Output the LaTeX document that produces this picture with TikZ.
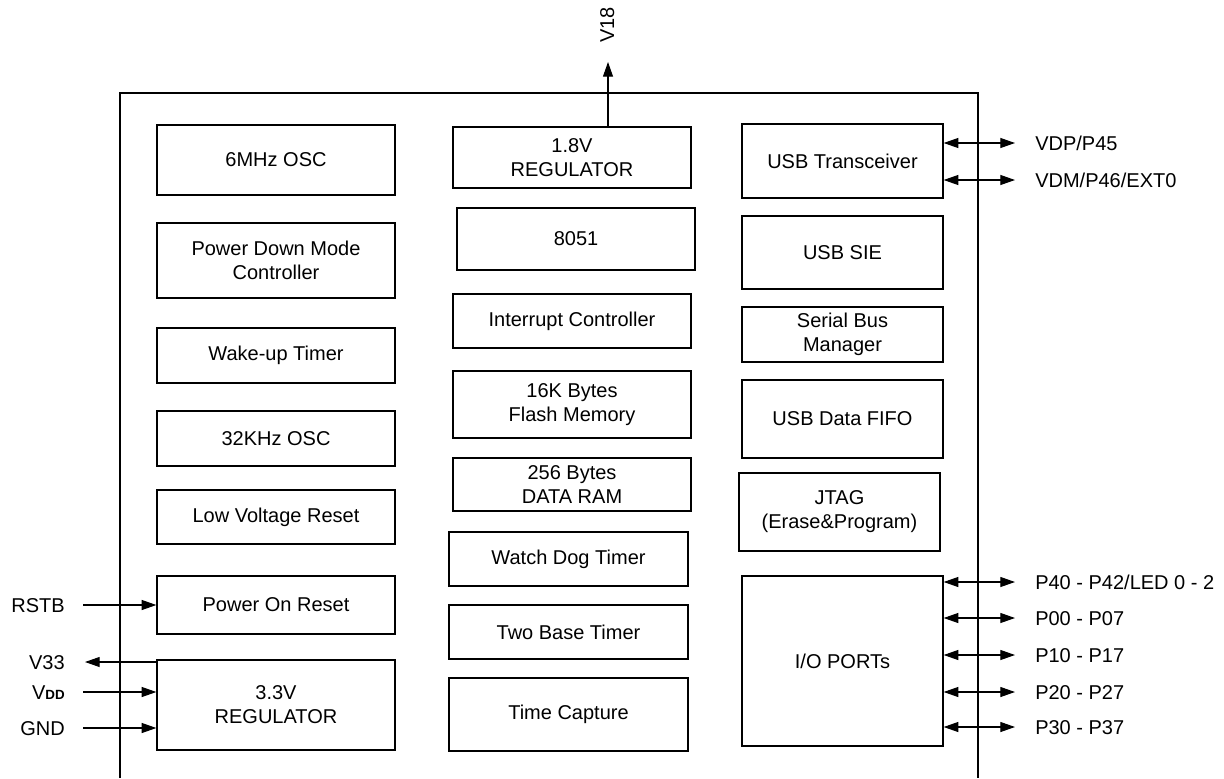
\documentclass[tikz,border=0pt]{standalone}
\usepackage{fontspec}
\setmainfont{Liberation Sans}
\usetikzlibrary{arrows.meta}
\begin{document}
\begin{tikzpicture}[x=0.75pt,y=-0.75pt,
  font=\fontsize{15}{18}\selectfont,
  blk/.style 2 args={draw, line width=1pt, align=center, inner sep=0pt,
    minimum width=#1*0.75pt, minimum height=#2*0.75pt},
  pin/.style={inner sep=0pt, text height=10.7pt, text depth=0pt},
  chip/.style={line width=2.2pt},
  sig/.style={line width=0.8pt, -{Triangle[length=11pt,width=7.5pt]}},
  bus/.style={line width=0.8pt,
    {Triangle[length=11pt,width=7.5pt]}-{Triangle[length=11pt,width=7.5pt]}}]
\useasboundingbox (0,0) rectangle (1224,778);
\draw[chip] (120,778) |- (978,93) -- (978,778);

\node[blk={238}{70}] (osc6) at (276,160) {6MHz OSC};
\node[blk={238}{75}] (pdm) at (276,260.5) {Power Down Mode\\Controller};
\node[blk={238}{55}] (wkt) at (276,355.5) {Wake-up Timer};
\node[blk={238}{55}] (osc32) at (276,438.5) {32KHz OSC};
\node[blk={238}{54}] (lvr) at (276,517) {Low Voltage Reset};
\node[blk={238}{58}] (por) at (276,605) {Power On Reset};
\node[blk={238}{90}] (reg33) at (276,705) {3.3V\\REGULATOR};

\node[blk={238}{61}] (reg18) at (572,157.5) {1.8V\\REGULATOR};
\node[blk={238}{62}] (mcu) at (576,239) {8051};
\node[blk={238}{54}] (intc) at (572,321) {Interrupt Controller};
\node[blk={238}{67}] (flash) at (572,404.5) {16K Bytes\\Flash Memory};
\node[blk={238}{53}] (ram) at (572,484.5) {256 Bytes\\DATA RAM};
\node[blk={239}{54}] (wdt) at (568.5,559) {Watch Dog Timer};
\node[blk={239}{54}] (tbt) at (568.5,632) {Two Base Timer};
\node[blk={239}{73}] (tcap) at (568.5,714.5) {Time Capture};

\node[blk={201}{74}] (usbtr) at (842.5,161) {USB Transceiver};
\node[blk={201}{73}] (sie) at (842.5,252.5) {USB SIE};
\node[blk={201}{55}] (sbm) at (842.5,334.5) {Serial Bus\\Manager};
\node[blk={201}{78}] (fifo) at (842.5,419) {USB Data FIFO};
\node[blk={201}{78}] (jtag) at (839.5,512) {JTAG\\(Erase\&Program)};
\node[blk={201}{170}] (io) at (842.5,661) {I/O PORTs};

\coordinate (v18) at (608,62);
\draw[sig] (reg18.north -| v18) -- (v18);
\node[pin, rotate=90] (lv18) at (607,25) {V18};

\coordinate (rstb) at (83,605);
\coordinate (v33) at (85,662);
\coordinate (vdd) at (83,692);
\coordinate (gnd) at (83,728);
\draw[sig] (rstb) -- (rstb -| por.west);
\draw[sig] (v33 -| reg33.west) -- (v33);
\draw[sig] (vdd) -- (vdd -| reg33.west);
\draw[sig] (gnd) -- (gnd -| reg33.west);
\node[pin, anchor=east] (lrstb) at (65,605) {RSTB};
\node[pin, anchor=east] (lv33) at (65,662) {V33};
\node[pin, anchor=east] (lvdd) at (65,692) {V{\fontsize{10}{12}\selectfont\bfseries DD}};
\node[pin, anchor=east] (lgnd) at (65,728) {GND};

\coordinate (vdp) at (1015,143);
\coordinate (vdm) at (1015,180);
\draw[bus] (vdp -| usbtr.east) -- (vdp);
\draw[bus] (vdm -| usbtr.east) -- (vdm);
\node[pin, anchor=west] (lvdp) at (1035,143) {VDP/P45};
\node[pin, anchor=west] (lvdm) at (1035,180) {VDM/P46/EXT0};

\coordinate (p4) at (1015,582);
\coordinate (p0) at (1015,618);
\coordinate (p1) at (1015,655);
\coordinate (p2) at (1015,692);
\coordinate (p3) at (1015,727);
\draw[bus] (p4 -| io.east) -- (p4);
\draw[bus] (p0 -| io.east) -- (p0);
\draw[bus] (p1 -| io.east) -- (p1);
\draw[bus] (p2 -| io.east) -- (p2);
\draw[bus] (p3 -| io.east) -- (p3);
\node[pin, anchor=west] (lp4) at (1035,582) {P40 - P42/LED 0 - 2};
\node[pin, anchor=west] (lp0) at (1035,618) {P00 - P07};
\node[pin, anchor=west] (lp1) at (1035,655) {P10 - P17};
\node[pin, anchor=west] (lp2) at (1035,692) {P20 - P27};
\node[pin, anchor=west] (lp3) at (1035,727) {P30 - P37};
\end{tikzpicture}
\end{document}
